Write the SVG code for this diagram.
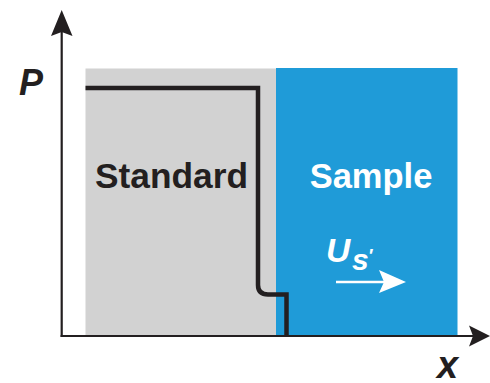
<svg xmlns="http://www.w3.org/2000/svg" width="490" height="383" viewBox="0 0 490 383">
<style>
.lbl{font-family:"Liberation Sans",Arial,sans-serif;font-weight:bold}
.it{font-style:italic}
</style>
<rect width="490" height="383" fill="#ffffff"/>
<g id="standard">
<rect x="85.5" y="68.5" width="190.5" height="267.5" fill="#d2d2d2"/>
<text class="lbl" x="171.5" y="187.5" font-size="35.3" text-anchor="middle" fill="#231f20">Standard</text>
</g>
<g id="sample">
<rect x="276" y="68" width="181.5" height="268" fill="#1f9bd8"/>
<text class="lbl" x="371" y="187.5" font-size="34.5" text-anchor="middle" fill="#ffffff">Sample</text>
</g>
<g id="profile">
<path d="M85.5,88 H258 V285 Q258,294.5 268,294.5 H286.5 V336" fill="none" stroke="#231f20" stroke-width="4.5"/>
</g>
<g id="velocity">
<text class="lbl it" x="326" y="262" font-size="33.5" fill="#ffffff">U</text>
<text class="lbl it" x="352" y="270" font-size="30" fill="#ffffff">s</text>
<text class="lbl" x="369" y="262" font-size="18" fill="#ffffff">′</text>
<line x1="336" y1="282" x2="384" y2="282" stroke="#ffffff" stroke-width="2.5"/>
<path d="M406,282 L379,270 L384,282 L379,293 Z" fill="#ffffff"/>
</g>
<g id="axes">
<line x1="61.7" y1="337" x2="61.7" y2="30" stroke="#231f20" stroke-width="2.2"/>
<path d="M61.7,10 L72.5,36 L61.7,32 L51,36 Z" fill="#231f20"/>
<line x1="60.6" y1="336" x2="475" y2="336" stroke="#231f20" stroke-width="2.2"/>
<path d="M490,336 L469,325.5 L473,336 L469,346.5 Z" fill="#231f20"/>
<text class="lbl it" x="19" y="95" font-size="36" fill="#231f20">P</text>
<text class="lbl it" x="437" y="378" font-size="38" fill="#231f20">x</text>
</g>
</svg>
